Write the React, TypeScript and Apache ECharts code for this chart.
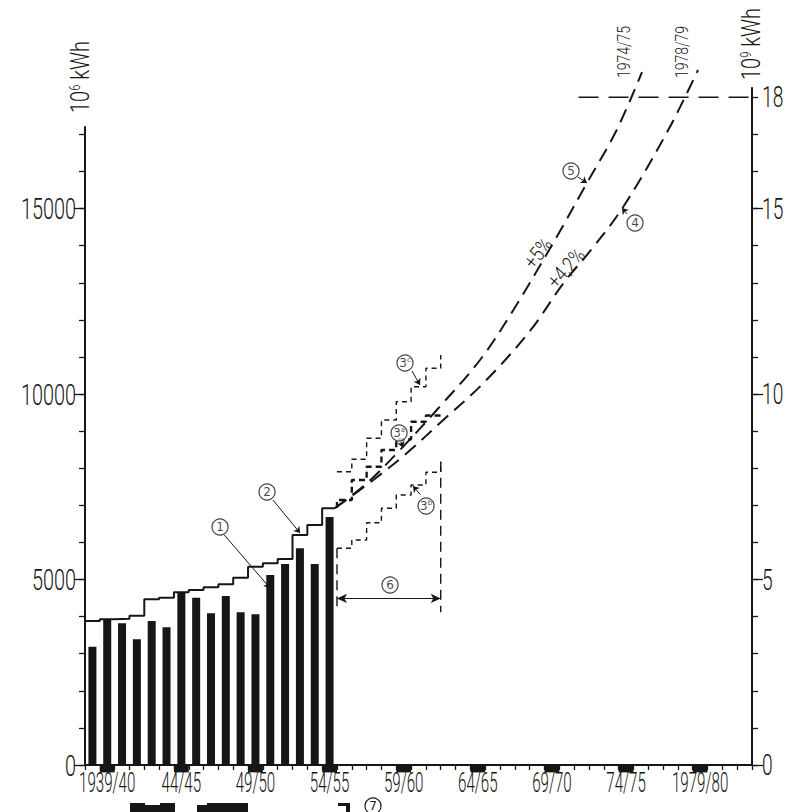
import React, { useEffect, useRef } from 'react';
import * as echarts from 'echarts';

// ---------- data ----------
const categories = [
  '1938/39', '1939/40', '1940/41', '1941/42', '1942/43', '1943/44', '1944/45', '1945/46', '1946/47',
  '1947/48', '1948/49', '1949/50', '1950/51', '1951/52', '1952/53', '1953/54', '1954/55', '1955/56',
  '1956/57', '1957/58', '1958/59', '1959/60', '1960/61', '1961/62', '1962/63', '1963/64', '1964/65',
  '1965/66', '1966/67', '1967/68', '1968/69', '1969/70', '1970/71', '1971/72', '1972/73', '1973/74',
  '1974/75', '1975/76', '1976/77', '1977/78', '1978/79', '1979/80', '1980/81', '1981/82', '1982/83',
];
const tickYears = ['1939/40', '1944/45', '1949/50', '1954/55', '1959/60', '1964/65', '1969/70', '1974/75', '1979/80'];
const tickTexts = ['1939/40', '44/45', '49/50', '54/55', '59/60', '64/65', '69/70', '74/75', '1979/80'];
const leftLabels = [0, 5000, 10000, 15000];
const rightLabels = [0, 5, 10, 15, 18];

// (1) yearly consumption, 10^6 kWh, 1938/39 .. 1954/55
const consumption = [3189, 3909, 3820, 3389, 3882, 3712, 4645, 4510, 4089, 4556, 4116, 4062, 5122, 5418, 5842, 5418, 6685];
// (2) stepped line, 10^6 kWh, 1938/39 .. 1954/55
const stepLine = [3882, 3928, 3944, 4025, 4467, 4510, 4655, 4717, 4790, 4871, 5049, 5346, 5437, 5553, 6200, 6470, 6920];

// projections 1955/56 .. 1961/62 (slot index 17..23)
const projStart = 17;
const proj3a = [7144, 7683, 8041, 8491, 8780, 9254, 9420];
const proj3b = [5842, 6065, 6532, 6920, 7278, 7548, 7890];
const proj3bEnd = 8176;
const proj3c = [7907, 8241, 8807, 9300, 9794, 10198, 10694];
const proj3cEnd = 11052;
const bracketBase = 4120;
const bracketArrow = 4490;

// (5) +5 % curve and (4) +4,2 % curve : [slot position, 10^6 kWh]
const curve5 = [
  [16.87, 6928], [19.01, 7594], [21.25, 8491], [23.73, 9570], [26.65, 10918],
  [28.9, 12265], [31.83, 14242], [33.85, 15681], [35.87, 17118], [37.58, 18681],
];
const curve4 = [
  [16.87, 6928], [19.45, 7683], [21.7, 8403], [24.17, 9300], [26.87, 10290],
  [30.02, 11700], [32.27, 12985], [34.07, 13850], [36.32, 15050], [39.35, 17118], [41.36, 18735],
];
const targetLevel = 18000;
const targetFrom = 33.3;
const markerDepth = -200;

// ---------- style ----------
const INK = '#161616';
const FONT = "Roboto, 'Liberation Sans', sans-serif";
const WEIGHT = 300;
const LEFT = 85;
const RIGHT = 38;
const BOTTOM = 47;
const BASE_Y = 812 - BOTTOM;
const TOP_MAX = 18250;
const PX_PER_UNIT = (BASE_Y - 88) / TOP_MAX;
const topFor = (v: number) => BASE_Y - v * PX_PER_UNIT;

function stepPoints(values: number[], start: number, endX?: number, endValue?: number) {
  const pts: number[][] = [];
  values.forEach((v, i) => {
    const x0 = start + i;
    let x1 = start + i + 1;
    if (i === values.length - 1 && endX !== undefined) x1 = endX;
    pts.push([x0, v], [x1, v]);
  });
  if (endValue !== undefined) pts.push([start + values.length, endValue]);
  return pts;
}

const noteStyle = {
  n: { fontSize: 12, color: INK, fontFamily: 'DejaVu Sans' },
  s: { fontSize: 7, color: INK, fontFamily: 'DejaVu Sans', verticalAlign: 'top', padding: [0, 0, 5, 0] },
};

const annotations = [
  { label: '{n|1}', at: [9.11, 6416] },
  { label: '{n|2}', at: [12.28, 7359] },
  { label: '{n|3}{s|c}', at: [21.59, 10837] },
  { label: '{n|3}{s|a}', at: [21.19, 8950] },
  { label: '{n|3}{s|b}', at: [23.01, 6982] },
  { label: '{n|4}', at: [37.11, 14611] },
  { label: '{n|5}', at: [32.79, 16012] },
  { label: '{n|6}', at: [20.58, 4852] },
];
const pointers = [
  [[9.4, 6200], [12.48, 4771]],
  [[12.68, 7144], [14.51, 6254]],
  [[22.06, 10621], [22.6, 10244]],
  [[21.32, 8707], [21.45, 8560]],
  [[22.62, 7290], [22.13, 7521]],
  [[36.57, 14853], [36.23, 15015]],
  [[33.26, 15851], [33.87, 15689]],
];

function buildOption(): any {
  const hiddenX = (g: number) => ({ gridIndex: g, type: 'value', min: 0, max: 1, show: false });
  const noSplit = { show: false };
  const tickStyle = { color: INK, width: 1.3 };
  const g = (v: number) => ({ left: LEFT, right: RIGHT, bottom: BOTTOM, top: topFor(v) });

  return {
    animation: false,
    backgroundColor: '#ffffff',
    grid: [g(TOP_MAX), g(17200), g(17000), g(15000), g(18000)],
    xAxis: [
      {
        gridIndex: 0,
        type: 'category',
        data: categories,
        boundaryGap: true,
        axisLine: { onZero: false, lineStyle: { color: INK, width: 2 } },
        axisTick: { show: true, interval: 0, length: 5, lineStyle: tickStyle },
        axisLabel: { show: false },
        splitLine: noSplit,
        z: 5,
      },
      { gridIndex: 0, type: 'category', data: categories, show: false, boundaryGap: true },
      { gridIndex: 0, type: 'value', min: 0, max: 45, show: false },
      hiddenX(1),
      hiddenX(2),
      hiddenX(3),
      hiddenX(4),
    ],
    yAxis: [
      {
        gridIndex: 0, type: 'value', position: 'right', min: 0, max: TOP_MAX,
        axisLine: { show: true, onZero: false, lineStyle: { color: INK, width: 2 } },
        axisTick: { show: false }, axisLabel: { show: false }, splitLine: noSplit,
      },
      {
        gridIndex: 1, type: 'value', position: 'left', min: 0, max: 17200,
        axisLine: { show: true, onZero: false, lineStyle: { color: INK, width: 2 } },
        axisTick: { show: false }, axisLabel: { show: false }, splitLine: noSplit,
      },
      {
        gridIndex: 2, type: 'value', position: 'left', min: 0, max: 17000, interval: 1000,
        axisLine: { show: false, onZero: false },
        axisTick: { show: true, length: 6, lineStyle: tickStyle },
        axisLabel: { show: false }, splitLine: noSplit,
      },
      {
        gridIndex: 3, type: 'value', position: 'left', min: 0, max: 15000, interval: 5000,
        axisLine: { show: false, onZero: false },
        axisTick: { show: true, length: 11, lineStyle: tickStyle },
        axisLabel: { show: false }, splitLine: noSplit,
      },
      {
        gridIndex: 3, type: 'value', position: 'right', min: 0, max: 15, interval: 5,
        axisLine: { show: false, onZero: false },
        axisTick: { show: true, length: 11, lineStyle: tickStyle },
        axisLabel: { show: false }, splitLine: noSplit,
      },
      {
        gridIndex: 4, type: 'value', position: 'right', min: 0, max: 18, interval: 1,
        axisLine: { show: false, onZero: false },
        axisTick: { show: true, length: 6, lineStyle: tickStyle },
        axisLabel: { show: false },
        splitLine: noSplit,
      },
    ],
    series: [
      {
        name: 'consumption', type: 'bar', xAxisIndex: 0, yAxisIndex: 0,
        data: consumption, barWidth: 8, itemStyle: { color: INK },
      },
      {
        name: 'markers', type: 'bar', xAxisIndex: 1, yAxisIndex: 0, clip: false,
        data: categories.map((c) => (tickYears.includes(c) ? markerDepth : '-')),
        barWidth: '100%', itemStyle: { color: INK },
      },
      {
        name: 'step', type: 'line', xAxisIndex: 2, yAxisIndex: 0, symbol: 'none',
        data: stepPoints(stepLine, 0, curve5[0][0]),
        lineStyle: { color: INK, width: 2 },
      },
      {
        name: '+5%', type: 'line', xAxisIndex: 2, yAxisIndex: 0, symbol: 'none', smooth: 0.35, clip: false,
        data: curve5, lineStyle: { color: INK, width: 2, type: [14, 8] },
      },
      {
        name: '+4,2%', type: 'line', xAxisIndex: 2, yAxisIndex: 0, symbol: 'none', smooth: 0.35, clip: false,
        data: curve4, lineStyle: { color: INK, width: 2, type: [14, 8] },
      },
      {
        name: 'target', type: 'line', xAxisIndex: 2, yAxisIndex: 0, symbol: 'none', clip: false,
        data: [[targetFrom, targetLevel], [45, targetLevel]],
        lineStyle: { color: INK, width: 1.5, type: [20, 10] },
      },
      {
        name: '3a', type: 'line', xAxisIndex: 2, yAxisIndex: 0, symbol: 'none',
        data: [[projStart, curve5[0][1]], ...stepPoints(proj3a, projStart)],
        lineStyle: { color: INK, width: 2.4, type: [6, 4] },
      },
      {
        name: '3b', type: 'line', xAxisIndex: 2, yAxisIndex: 0, symbol: 'none',
        data: stepPoints(proj3b, projStart, undefined, proj3bEnd),
        lineStyle: { color: INK, width: 1.4, type: [5, 4] },
      },
      {
        name: '3c', type: 'line', xAxisIndex: 2, yAxisIndex: 0, symbol: 'none',
        data: stepPoints(proj3c, projStart, undefined, proj3cEnd),
        lineStyle: { color: INK, width: 1.4, type: [5, 4] },
      },
      {
        name: 'bracketL', type: 'line', xAxisIndex: 2, yAxisIndex: 0, symbol: 'none',
        data: [[projStart, proj3b[0]], [projStart, bracketBase]],
        lineStyle: { color: INK, width: 1.4, type: [10, 6] },
        markLine: {
          silent: true, symbol: ['arrow', 'arrow'], symbolSize: [7, 10],
          label: { show: false },
          lineStyle: { color: INK, width: 1.2, type: 'solid' },
          data: [[{ coord: [projStart, bracketArrow] }, { coord: [projStart + proj3b.length, bracketArrow] }]],
        },
      },
      {
        name: 'bracketR', type: 'line', xAxisIndex: 2, yAxisIndex: 0, symbol: 'none',
        data: [[projStart + proj3b.length, proj3bEnd], [projStart + proj3b.length, bracketBase]],
        lineStyle: { color: INK, width: 1.4, type: [10, 6] },
      },
      {
        name: 'notes', type: 'scatter', xAxisIndex: 2, yAxisIndex: 0, z: 6,
        symbol: 'circle', symbolSize: 16,
        itemStyle: { color: '#ffffff', borderColor: INK, borderWidth: 1.2 },
        label: { show: true, position: 'inside', rich: noteStyle },
        data: annotations.map((a) => ({ value: a.at, label: { formatter: a.label } })),
        markLine: {
          silent: true, symbol: ['none', 'arrow'], symbolSize: 6,
          label: { show: false },
          lineStyle: { color: INK, width: 1, type: 'solid' },
          data: pointers.map((p) => [{ coord: p[0] }, { coord: p[1] }]),
        },
      },
    ],
  };
}

function txt(x: number, y: number, text: string, size: number, sx: number, align: string, rotation = 0, rich?: any) {
  return {
    type: 'text', x, y, rotation, scaleX: sx, silent: true,
    style: rich
      ? { text, align, verticalAlign: 'middle', rich }
      : { text, fontSize: size, fontFamily: FONT, fontWeight: WEIGHT, fill: INK, align, verticalAlign: 'middle' },
  };
}

function buildGraphic(chart: any): any[] {
  const els: any[] = [];
  const baseY = chart.convertToPixel({ yAxisIndex: 0 }, 0) as number;
  const leftX = chart.convertToPixel({ xAxisIndex: 3 }, 0) as number;
  const rightX = chart.convertToPixel({ xAxisIndex: 4 }, 1) as number;

  // bottom axis labels
  tickYears.forEach((yr, i) => {
    const x = chart.convertToPixel({ xAxisIndex: 0 }, yr) as number;
    els.push(txt(x, baseY + 18, tickTexts[i], 27, 0.56, 'center'));
  });
  // left axis labels
  leftLabels.forEach((v) => {
    const y = chart.convertToPixel({ yAxisIndex: 3 }, v) as number;
    els.push(txt(leftX - 9, y, String(v), 30, 0.66, 'right'));
  });
  // right axis labels
  rightLabels.forEach((v) => {
    const y = chart.convertToPixel({ yAxisIndex: 5 }, v) as number;
    els.push(txt(rightX + 10, y, String(v), 30, 0.64, 'left'));
  });

  const unitRich = {
    a: { fontSize: 25, fontFamily: FONT, fontWeight: WEIGHT, fill: INK },
    b: { fontSize: 14, fontFamily: FONT, fontWeight: WEIGHT, fill: INK, verticalAlign: 'top' },
  };
  els.push(txt(leftX - 4, 77, '{a|10}{b|6}{a| kWh}', 25, 0.8, 'center', Math.PI / 2, unitRich));
  els.push(txt(rightX, 44, '{a|10}{b|9}{a| kWh}', 25, 0.8, 'center', Math.PI / 2, unitRich));

  els.push(txt(624, 52, '1974/75', 18, 0.78, 'center', Math.PI / 2));
  els.push(txt(682, 52, '1978/79', 18, 0.78, 'center', Math.PI / 2));
  els.push(txt(538, 253, '+5%', 21, 0.82, 'center', 0.9));
  els.push(txt(566, 268, '+4,2%', 21, 0.82, 'center', 0.84));

  // fragments of the chart below (cut off at the bottom edge)
  const frag = [
    [130, 803, 15, 10], [145, 805, 15, 8], [160, 803, 15, 10],
    [197, 805, 10, 8], [207, 803, 41, 10], [338, 803, 12, 3], [346, 803, 4, 10],
  ];
  frag.forEach(([x, y, w, h]) => els.push({ type: 'rect', shape: { x, y, width: w, height: h }, style: { fill: INK } }));
  els.push({ type: 'circle', shape: { cx: 373, cy: 806, r: 8 }, style: { fill: '#fff', stroke: INK, lineWidth: 1.2 } });
  els.push({
    type: 'text', x: 373, y: 806,
    style: { text: '7', fontSize: 12, fontFamily: 'DejaVu Sans', fill: INK, align: 'center', verticalAlign: 'middle' },
  });
  return els;
}

export default function App() {
  const ref = useRef<HTMLDivElement>(null);
  useEffect(() => {
    document.body.style.margin = '0';
    const chart = echarts.init(ref.current as HTMLDivElement, null, { renderer: 'svg' });
    chart.setOption(buildOption());
    chart.setOption({ graphic: buildGraphic(chart) });
    return () => chart.dispose();
  }, []);
  return <div ref={ref} style={{ width: 790, height: 812, background: '#ffffff' }} />;
}
